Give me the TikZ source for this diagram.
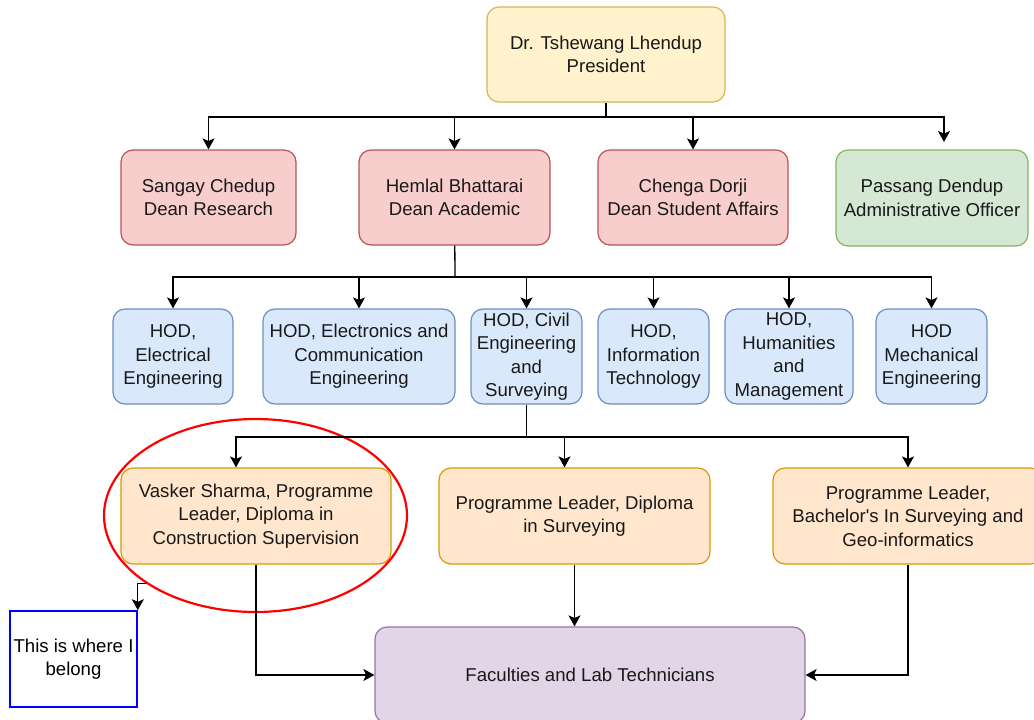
\documentclass[tikz,border=0pt]{standalone}
\usepackage{fontspec}
\setmainfont{Liberation Sans}
\usetikzlibrary{arrows.meta,shapes.geometric}

\definecolor{presfill}{HTML}{FFF2CC}
\definecolor{presline}{HTML}{D6B656}
\definecolor{deanfill}{HTML}{F8CECC}
\definecolor{deanline}{HTML}{B85450}
\definecolor{admfill}{HTML}{D5E8D4}
\definecolor{admline}{HTML}{82B366}
\definecolor{hodfill}{HTML}{DAE8FC}
\definecolor{hodline}{HTML}{6C8EBF}
\definecolor{plfill}{HTML}{FFE6CC}
\definecolor{plline}{HTML}{D79B00}
\definecolor{facfill}{HTML}{E1D5E7}
\definecolor{facline}{HTML}{9673A6}

\begin{document}
\begin{tikzpicture}[x=0.5pt,y=-0.5pt,
   orgbox/.style={draw, rounded corners=6pt, align=center, inner sep=0pt,
      line width=0.6pt, text=black!90, font=\fontsize{9.3}{11.7}\selectfont},
   pres/.style={orgbox, fill=presfill, draw=presline},
   dean/.style={orgbox, fill=deanfill, draw=deanline},
   adm/.style={orgbox, fill=admfill, draw=admline},
   hod/.style={orgbox, fill=hodfill, draw=hodline},
   lead/.style={orgbox, fill=plfill, draw=plline},
   fac/.style={orgbox, fill=facfill, draw=facline},
   arr/.style={-{Stealth[length=5.5pt,width=6pt,inset=1.3pt]}, line width=0.65pt},
   link/.style={line width=0.65pt}]
   \useasboundingbox (0,0) rectangle (1034,719);

   % president and deans
   \node[pres, minimum width=119pt, minimum height=47.5pt] (p) at (606,54.5) {Dr. Tshewang Lhendup\\President};
   \node[dean, minimum width=87.5pt, minimum height=47.5pt] (d1) at (208.5,197.5) {Sangay Chedup\\Dean Research};
   \node[dean, minimum width=95.5pt, minimum height=47.5pt] (d2) at (454.5,197.5) {Hemlal Bhattarai\\Dean Academic};
   \node[dean, minimum width=95pt, minimum height=47.5pt] (d3) at (693,197.5) {Chenga Dorji\\Dean Student Affairs};
   \node[adm, minimum width=96pt, minimum height=48pt] (d4) at (932,198) {Passang Dendup\\Administrative Officer};

   % heads of department
   \node[hod, minimum width=60pt, minimum height=47.5pt] (h1) at (173,356.5) {HOD,\\Electrical\\Engineering};
   \node[hod, minimum width=96pt, minimum height=47.5pt] (h2) at (359,356.5) {HOD, Electronics and\\Communication\\Engineering};
   \node[hod, minimum width=55.5pt, minimum height=47.5pt] (h3) at (526.5,356.5) {HOD, Civil\\Engineering\\and\\Surveying};
   \node[hod, minimum width=55.5pt, minimum height=47.5pt] (h4) at (653.5,356.5) {HOD,\\Information\\Technology};
   \node[hod, minimum width=64pt, minimum height=47.5pt] (h5) at (789,356.5) {HOD,\\Humanities\\and\\Management};
   \node[hod, minimum width=55.5pt, minimum height=47.5pt] (h6) at (931.5,356.5) {HOD\\Mechanical\\Engineering};

   % programme leaders
   \node[lead, minimum width=135pt, minimum height=48pt] (l1) at (256,516) {Vasker Sharma, Programme\\Leader, Diploma in\\Construction Supervision};
   \node[lead, minimum width=135.5pt, minimum height=48pt] (l2) at (574.5,516) {Programme Leader, Diploma\\in Surveying};
   \node[lead, minimum width=135pt, minimum height=48pt] (l3) at (908,516) {Programme Leader,\\Bachelor\textquotesingle s In Surveying and\\Geo-informatics};

   \node[fac, minimum width=215pt, minimum height=48pt] (f) at (590,675) {Faculties and Lab Technicians};
   \node[draw=blue, fill=white, line width=0.8pt, align=center, inner sep=0pt,
      minimum width=63.5pt, minimum height=48pt, font=\fontsize{9.3}{11.7}\selectfont] (me) at (73.5,659) {This is where I\\belong};
   \node[draw=red, line width=1.1pt, ellipse, inner sep=0pt,
      minimum width=151.5pt, minimum height=96.5pt] (el) at (255.5,515.5) {};

   % connectors
   \coordinate (j0) at (606,117);
   \coordinate (t4) at (944,142);
   \draw[link] (p) -- (j0);
   \foreach \n in {d1,d2,d3} \draw[arr] (j0) -| (\n);
   \draw[arr] (j0) -| (t4);

   \coordinate (j1) at (455,277);
   \draw[link] (d2) -- (j1);
   \foreach \n in {h1,h2,h3,h4,h5,h6} \draw[arr] (j1) -| (\n);

   \coordinate (j2) at (526.5,437);
   \draw[link] (h3) -- (j2);
   \draw[arr] (j2) -| ([xshift=-10pt]l1.north);
   \draw[arr] (j2) -| ([xshift=-5pt]l2.north);
   \draw[arr] (j2) -| (l3);

   \draw[arr] (l1) |- (f);
   \draw[arr] (l2) -- (l2.south |- f.north);
   \draw[arr] (l3) |- (f);
   \draw[arr] (el.212) -| (me.north east);

\end{tikzpicture}
\end{document}
